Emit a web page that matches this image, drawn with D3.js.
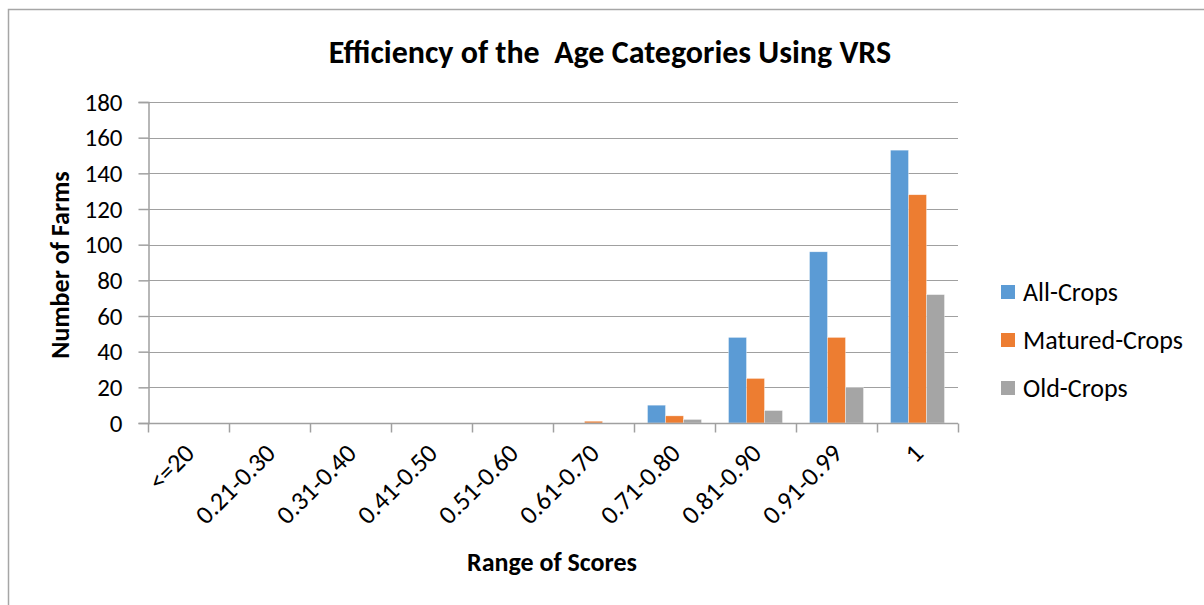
<!DOCTYPE html>
<html>
<head>
<meta charset="utf-8">
<script src="https://cdn.jsdelivr.net/npm/d3@7"></script>
<style>
	body { margin: 0; background: #fff; }
	svg { display: block; font-family: Carlito, Lato, sans-serif; }
</style>
</head>
<body>
<svg id="chart" width="1204" height="605"></svg>
<script>
// values
var categories = ["<=20", "0.21-0.30", "0.31-0.40", "0.41-0.50", "0.51-0.60", "0.61-0.70", "0.71-0.80", "0.81-0.90", "0.91-0.99", "1"];
var seriesNames = ["All-Crops", "Matured-Crops", "Old-Crops"];
var allCrops = [0, 0, 0, 0, 0, 0, 10, 48, 96, 153];
var maturedCrops = [0, 0, 0, 0, 0, 1, 4, 25, 48, 128];
var oldCrops = [0, 0, 0, 0, 0, 0, 2, 7, 20, 72];
var seriesColors = ["#5b9bd5", "#ed7d31", "#a5a5a5"];
var yTicks = [0, 20, 40, 60, 80, 100, 120, 140, 160, 180];

var series = [allCrops, maturedCrops, oldCrops];

var svg = d3.select("#chart");

var plot = { left: 148, right: 958, top: 102, bottom: 423 };

// outer frame (right and bottom edges are cut off)
svg.append("path")
	.attr("d", "M8.5,605 L8.5,9.5 L1204,9.5")
	.attr("fill", "none")
	.attr("stroke", "#a6a6a6")
	.attr("stroke-width", 1.5);

var x = d3.scaleBand()
	.domain(categories)
	.range([plot.left, plot.right])
	.paddingInner(0)
	.paddingOuter(0);

var y = d3.scaleLinear()
	.domain([0, 180])
	.range([plot.bottom, plot.top]);

// gap width 150% like the original
var barW = x.bandwidth() / (3 + 1.5);
var gap = barW * 0.75;

// gridlines
svg.append("g")
	.selectAll("line")
	.data(yTicks.slice(1))
	.enter()
	.append("line")
	.attr("x1", plot.left)
	.attr("x2", plot.right)
	.attr("y1", d => Math.round(y(d)) + 0.5)
	.attr("y2", d => Math.round(y(d)) + 0.5)
	.attr("stroke", "#a0a0a0")
	.attr("stroke-width", 1.2);

// bars
var groups = svg.append("g")
	.selectAll("g")
	.data(series)
	.enter()
	.append("g")
	.attr("fill", (_, i) => seriesColors[i]);

groups.selectAll("rect")
	.data((d, si) => d.map((v, ci) => ({ v: v, c: categories[ci], s: si })))
	.enter()
	.append("rect")
	.attr("x", d => x(d.c) + gap + d.s * barW)
	.attr("y", d => y(d.v))
	.attr("width", barW)
	.attr("height", d => y(0) - y(d.v))
	.attr("stroke", "#fff")
	.attr("stroke-width", 0.6)
	.attr("stroke-opacity", d => d.v > 0 ? 0.6 : 0);

// y axis
var yAxis = svg.append("g")
	.attr("transform", "translate(" + (plot.left + 0.5) + ",0)")
	.call(d3.axisLeft(y).tickValues(yTicks).tickSize(10).tickPadding(16).tickFormat(d3.format("d")));

// x axis
var xTickPos = categories.map(c => x(c)).concat([plot.right]);
var xAxis = svg.append("g")
	.attr("transform", "translate(0," + (plot.bottom + 0.5) + ")");

xAxis.append("line")
	.attr("x1", plot.left)
	.attr("x2", plot.right)
	.attr("stroke", "#a0a0a0")
	.attr("stroke-width", 1.5);

xAxis.selectAll("line.tick")
	.data(xTickPos)
	.enter()
	.append("line")
	.attr("class", "tick")
	.attr("x1", d => Math.round(d) + 0.5)
	.attr("x2", d => Math.round(d) + 0.5)
	.attr("y1", 0)
	.attr("y2", 9)
	.attr("stroke", "#a0a0a0")
	.attr("stroke-width", 1.5);

xAxis.selectAll("text")
	.data(categories)
	.enter()
	.append("text")
	.attr("transform", d => "translate(" + (x(d) + x.bandwidth() / 2 + 1) + ",25) rotate(-45)")
	.attr("text-anchor", "end")
	.attr("dominant-baseline", "central")
	.attr("font-size", "26px")
	.attr("fill", "#000")
	.text(d => d);

yAxis.select(".domain").attr("stroke", "#a0a0a0").attr("stroke-width", 1.5);
yAxis.selectAll(".tick line").attr("stroke", "#a0a0a0").attr("stroke-width", 1.5);
yAxis.selectAll(".tick text")
	.attr("font-size", "25px")
	.attr("font-family", "Carlito, Lato, sans-serif")
	.attr("fill", "#000");

// title
svg.append("text")
	.attr("x", 610)
	.attr("y", 52)
	.attr("text-anchor", "middle")
	.attr("dominant-baseline", "central")
	.attr("font-size", "32px")
	.attr("font-weight", "bold")
	.style("white-space", "pre")
	.text("Efficiency of the  Age Categories Using VRS");

// axis titles
svg.append("text")
	.attr("x", 552)
	.attr("y", 562)
	.attr("text-anchor", "middle")
	.attr("dominant-baseline", "central")
	.attr("font-size", "26px")
	.attr("font-weight", "bold")
	.text("Range of Scores");

svg.append("text")
	.attr("transform", "translate(60,265) rotate(-90)")
	.attr("text-anchor", "middle")
	.attr("dominant-baseline", "central")
	.attr("font-size", "26px")
	.attr("font-weight", "bold")
	.text("Number of Farms");

// legend
var legend = svg.append("g")
	.selectAll("g")
	.data(seriesNames)
	.enter()
	.append("g")
	.attr("transform", (_, i) => "translate(1001," + (292 + i * 48) + ")");

legend.append("rect")
	.attr("x", 0)
	.attr("y", -7)
	.attr("width", 14)
	.attr("height", 14)
	.attr("fill", (_, i) => seriesColors[i]);

legend.append("text")
	.attr("x", 22)
	.attr("y", 0)
	.attr("dominant-baseline", "central")
	.attr("font-size", "26px")
	.attr("fill", "#000")
	.text(d => d);
</script>
</body>
</html>
